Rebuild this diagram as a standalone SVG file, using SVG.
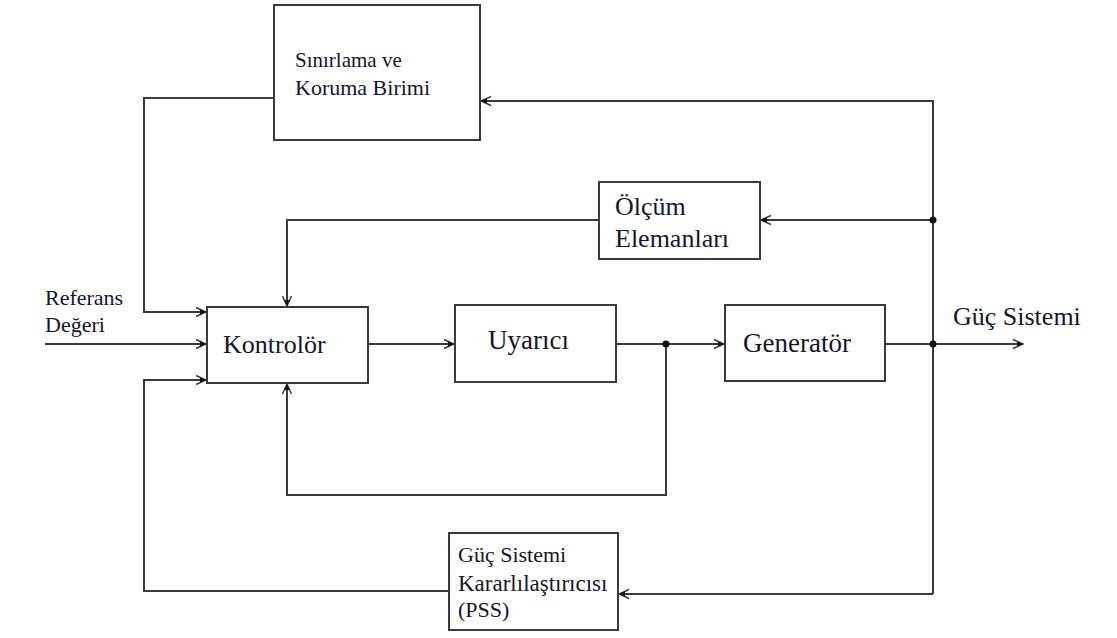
<svg xmlns="http://www.w3.org/2000/svg" width="1117" height="638" viewBox="0 0 1117 638">
<defs>
<style>
.box{fill:#ffffff;stroke:#3a3a3a;stroke-width:2}
.ln{fill:none;stroke:#3a3a3a;stroke-width:2}
text{font-family:'Liberation Serif','Times New Roman',Times,serif;fill:#15152a}
.big{font-size:26px}
.sm{font-size:22px}
</style>
<marker id="arr" markerUnits="userSpaceOnUse" markerWidth="14" markerHeight="12" viewBox="0 0 14 12" refX="13" refY="6" orient="auto">
<path d="M3,1.5 L13,6 L3,10.5" fill="none" stroke="#3a3a3a" stroke-width="1.5"/>
<path d="M7,3.5 L13,6 L7,8.5 Z" fill="#111"/>
</marker>
</defs>
<rect width="1117" height="638" fill="#ffffff"/>
<g id="connectors">
<path class="ln" d="M45,344 H206" marker-end="url(#arr)"/>
<path class="ln" d="M274,98 H144 V312 H206" marker-end="url(#arr)"/>
<path class="ln" d="M449,591 H144 V380 H206" marker-end="url(#arr)"/>
<path class="ln" d="M599,220 H287 V306" marker-end="url(#arr)"/>
<path class="ln" d="M666,344 V495 H287 V384" marker-end="url(#arr)"/>
<path class="ln" d="M368,344 H454" marker-end="url(#arr)"/>
<path class="ln" d="M616,344 H724" marker-end="url(#arr)"/>
<path class="ln" d="M885,344 H1023" marker-end="url(#arr)"/>
<path class="ln" d="M933,594 V101 H481" marker-end="url(#arr)"/>
<path class="ln" d="M933,220 H761" marker-end="url(#arr)"/>
<path class="ln" d="M933,594 H619" marker-end="url(#arr)"/>
<circle cx="933" cy="220" r="3.5" fill="#111"/>
<circle cx="933" cy="344" r="3.5" fill="#111"/>
<circle cx="666" cy="344" r="3.5" fill="#111"/>
</g>
<g id="sinirlama">
<rect class="box" x="274" y="5" width="206" height="135"/>
<text class="sm" x="295" y="67" font-family="Liberation Serif, serif" style="font-size:21px">Sınırlama ve</text>
<text class="sm" x="295" y="95" font-family="Liberation Serif, serif">Koruma Birimi</text>
</g>
<g id="olcum">
<rect class="box" x="599" y="182" width="161" height="77"/>
<text class="big" x="615" y="215" font-family="Liberation Serif, serif">Ölçüm</text>
<text class="big" x="615" y="247" font-family="Liberation Serif, serif">Elemanları</text>
</g>
<g id="referans">
<text class="sm" x="45" y="305" font-family="Liberation Serif, serif">Referans</text>
<text class="sm" x="45" y="332" font-family="Liberation Serif, serif">Değeri</text>
</g>
<g id="kontrolor">
<rect class="box" x="207" y="307" width="161" height="76"/>
<text class="big" x="223" y="353" font-family="Liberation Serif, serif">Kontrolör</text>
</g>
<g id="uyarici">
<rect class="box" x="455" y="305" width="161" height="77"/>
<text class="big" x="488" y="349" font-family="Liberation Serif, serif" style="font-size:27px">Uyarıcı</text>
</g>
<g id="generator">
<rect class="box" x="725" y="305" width="160" height="76"/>
<text class="big" x="743" y="352" font-family="Liberation Serif, serif" style="font-size:27px">Generatör</text>
</g>
<g id="guc-sistemi">
<text class="big" x="953" y="325" font-family="Liberation Serif, serif">Güç Sistemi</text>
</g>
<g id="pss">
<rect class="box" x="449" y="533" width="169" height="97"/>
<text class="sm" x="458" y="562" font-family="Liberation Serif, serif">Güç Sistemi</text>
<text class="sm" x="458" y="591" font-family="Liberation Serif, serif" style="font-size:23px">Kararlılaştırıcısı</text>
<text class="sm" x="458" y="617" font-family="Liberation Serif, serif">(PSS)</text>
</g>
</svg>
